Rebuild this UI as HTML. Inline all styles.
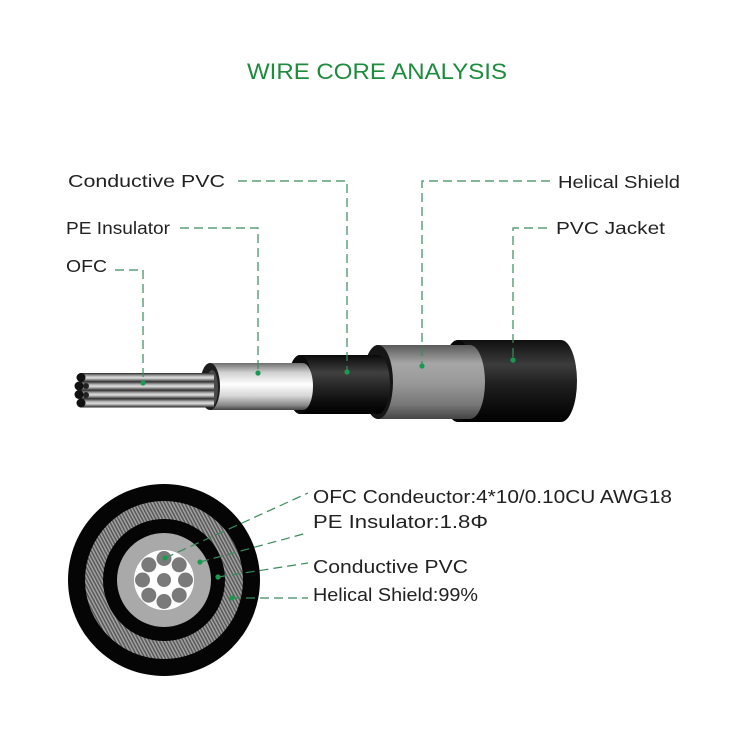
<!DOCTYPE html>
<html><head><meta charset="utf-8"><style>
html,body{margin:0;padding:0;background:#fff;}
svg{display:block;}
text{font-family:"Liberation Sans",sans-serif;}
</style></head><body>
<svg width="744" height="744" viewBox="0 0 744 744" xmlns="http://www.w3.org/2000/svg">
<defs>
<linearGradient id="gStrand" x1="0" y1="0" x2="0" y2="1">
<stop offset="0" stop-color="#2a2a2a"/><stop offset="0.35" stop-color="#b8b8b8"/><stop offset="0.55" stop-color="#dedede"/><stop offset="0.8" stop-color="#777"/><stop offset="1" stop-color="#222"/>
</linearGradient>
<linearGradient id="gPE" x1="0" y1="0" x2="0" y2="1">
<stop offset="0" stop-color="#6f6f6f"/><stop offset="0.2" stop-color="#cfcfcf"/><stop offset="0.45" stop-color="#ffffff"/><stop offset="0.7" stop-color="#d6d6d6"/><stop offset="0.9" stop-color="#888"/><stop offset="1" stop-color="#444"/>
</linearGradient>
<linearGradient id="gBlack" x1="0" y1="0" x2="0" y2="1">
<stop offset="0" stop-color="#0a0a0a"/><stop offset="0.3" stop-color="#404040"/><stop offset="0.5" stop-color="#2a2a2a"/><stop offset="0.8" stop-color="#0d0d0d"/><stop offset="1" stop-color="#000"/>
</linearGradient>
<linearGradient id="gHel" x1="0" y1="0" x2="0" y2="1">
<stop offset="0" stop-color="#5a5a5a"/><stop offset="0.25" stop-color="#a6a6a6"/><stop offset="0.5" stop-color="#9a9a9a"/><stop offset="0.8" stop-color="#787878"/><stop offset="1" stop-color="#444"/>
</linearGradient>
<linearGradient id="gJacket" x1="0" y1="0" x2="0" y2="1">
<stop offset="0" stop-color="#0f0f0f"/><stop offset="0.3" stop-color="#3c3c3c"/><stop offset="0.55" stop-color="#1e1e1e"/><stop offset="0.85" stop-color="#0a0a0a"/><stop offset="1" stop-color="#000"/>
</linearGradient>
<pattern id="hatch" width="3" height="3" patternUnits="userSpaceOnUse" patternTransform="rotate(-28)">
<rect width="3" height="3" fill="#7c7c7c"/>
<rect x="0" y="0" width="0.7" height="3" fill="#b8b8b8"/>
<rect x="1.5" y="0" width="0.8" height="3" fill="#4c4c4c"/>
</pattern>
</defs>

<!-- Title -->
<text x="247" y="79" font-size="22" fill="#1e8b3e" textLength="260" lengthAdjust="spacingAndGlyphs">WIRE CORE ANALYSIS</text>

<!-- Cable: jacket -->
<path d="M458,340 L561,340 A16,41 0 0 1 561,422 L458,422 A16,41 0 0 1 458,340 Z" fill="url(#gJacket)"/>
<ellipse cx="458" cy="381" rx="16" ry="41" fill="#080808"/>
<!-- helical -->
<path d="M378,345 L470,345 A15,37 0 0 1 470,419 L378,419 A15,37 0 0 1 378,345 Z" fill="url(#gHel)"/>
<ellipse cx="378" cy="382" rx="15" ry="37" fill="#161616"/>
<!-- conductive -->
<path d="M300,355 L378,355 A12,29.5 0 0 1 378,414 L300,414 A12,29.5 0 0 1 300,355 Z" fill="url(#gBlack)"/>
<ellipse cx="300" cy="384.5" rx="12" ry="29.5" fill="#0a0a0a"/>
<!-- PE -->
<path d="M210,363 L303,363 A10,23.5 0 0 1 303,410 L210,410 A10,23.5 0 0 1 210,363 Z" fill="url(#gPE)"/>
<ellipse cx="210" cy="386.5" rx="10" ry="23.5" fill="#1c1c1c"/>
<ellipse cx="212" cy="388" rx="6" ry="18" fill="#4a4a4a"/>
<!-- strands -->
<rect x="80" y="373" width="134" height="9" fill="url(#gStrand)"/>
<rect x="80" y="381.5" width="134" height="9" fill="url(#gStrand)"/>
<rect x="80" y="390" width="134" height="9" fill="url(#gStrand)"/>
<rect x="80" y="398.5" width="134" height="9" fill="url(#gStrand)"/>
<circle cx="81" cy="377.5" r="4.5" fill="#111"/>
<circle cx="79" cy="386" r="4.5" fill="#111"/>
<circle cx="79" cy="394.5" r="4.5" fill="#111"/>
<circle cx="81" cy="403" r="4.5" fill="#111"/>
<circle cx="86" cy="386" r="3" fill="#222"/>
<circle cx="86" cy="395" r="3" fill="#222"/>

<!-- top leaders -->
<g fill="none" stroke="#3a8a5c" stroke-width="1.2" stroke-dasharray="9,5">
<path d="M238,181 H347 V372"/>
<path d="M180,228 H258 V373"/>
<path d="M115,270 H143 V383"/>
<path d="M550,181 H422 V366"/>
<path d="M547,228 H513 V360"/>
</g>
<g fill="#1a9a50">
<circle cx="347" cy="372" r="2.6"/>
<circle cx="258" cy="373" r="2.6"/>
<circle cx="143" cy="383" r="2.6"/>
<circle cx="422" cy="366" r="2.6"/>
<circle cx="513" cy="360" r="2.6"/>
</g>

<!-- top labels -->
<g font-size="17.5" fill="#222">
<text x="68" y="187" textLength="157" lengthAdjust="spacingAndGlyphs">Conductive PVC</text>
<text x="66" y="234" textLength="104" lengthAdjust="spacingAndGlyphs">PE Insulator</text>
<text x="66" y="272" textLength="41" lengthAdjust="spacingAndGlyphs">OFC</text>
<text x="558" y="188" textLength="122" lengthAdjust="spacingAndGlyphs">Helical Shield</text>
<text x="556" y="234" textLength="109" lengthAdjust="spacingAndGlyphs">PVC Jacket</text>
</g>

<!-- cross section -->
<circle cx="164" cy="580" r="96" fill="#050505"/>
<circle cx="164" cy="580" r="79" fill="url(#hatch)"/>
<circle cx="164" cy="580" r="61" fill="#050505"/>
<circle cx="164" cy="580" r="47" fill="#a9a9a9"/>
<circle cx="164" cy="580" r="30" fill="#ffffff"/>
<g fill="#7a7a7a">
<circle cx="164" cy="580" r="7"/>
<circle cx="164" cy="558.5" r="7.5"/>
<circle cx="179.2" cy="564.8" r="7.5"/>
<circle cx="185.5" cy="580" r="7.5"/>
<circle cx="179.2" cy="595.2" r="7.5"/>
<circle cx="164" cy="601.5" r="7.5"/>
<circle cx="148.8" cy="595.2" r="7.5"/>
<circle cx="142.5" cy="580" r="7.5"/>
<circle cx="148.8" cy="564.8" r="7.5"/>
</g>

<!-- bottom leaders -->
<g fill="none" stroke="#3a8a5c" stroke-width="1.2" stroke-dasharray="9,5">
<path d="M165,558 L308,493"/>
<path d="M200,562 L307,533"/>
<path d="M218,577 L308,563"/>
<path d="M232,598 L308,598"/>
</g>
<g fill="#1a9a50">
<circle cx="165" cy="558" r="2.6"/>
<circle cx="200" cy="562" r="2.6"/>
<circle cx="218" cy="577" r="2.6"/>
<circle cx="232" cy="598" r="2.6"/>
</g>

<!-- bottom labels -->
<g font-size="18" fill="#222">
<text x="313" y="503" textLength="359" lengthAdjust="spacingAndGlyphs">OFC Condeuctor:4*10/0.10CU AWG18</text>
<text x="313" y="528" textLength="175" lengthAdjust="spacingAndGlyphs">PE Insulator:1.8Φ</text>
<text x="313" y="573" textLength="155" lengthAdjust="spacingAndGlyphs">Conductive PVC</text>
<text x="313" y="601" textLength="165" lengthAdjust="spacingAndGlyphs">Helical Shield:99%</text>
</g>
</svg>
</body></html>
